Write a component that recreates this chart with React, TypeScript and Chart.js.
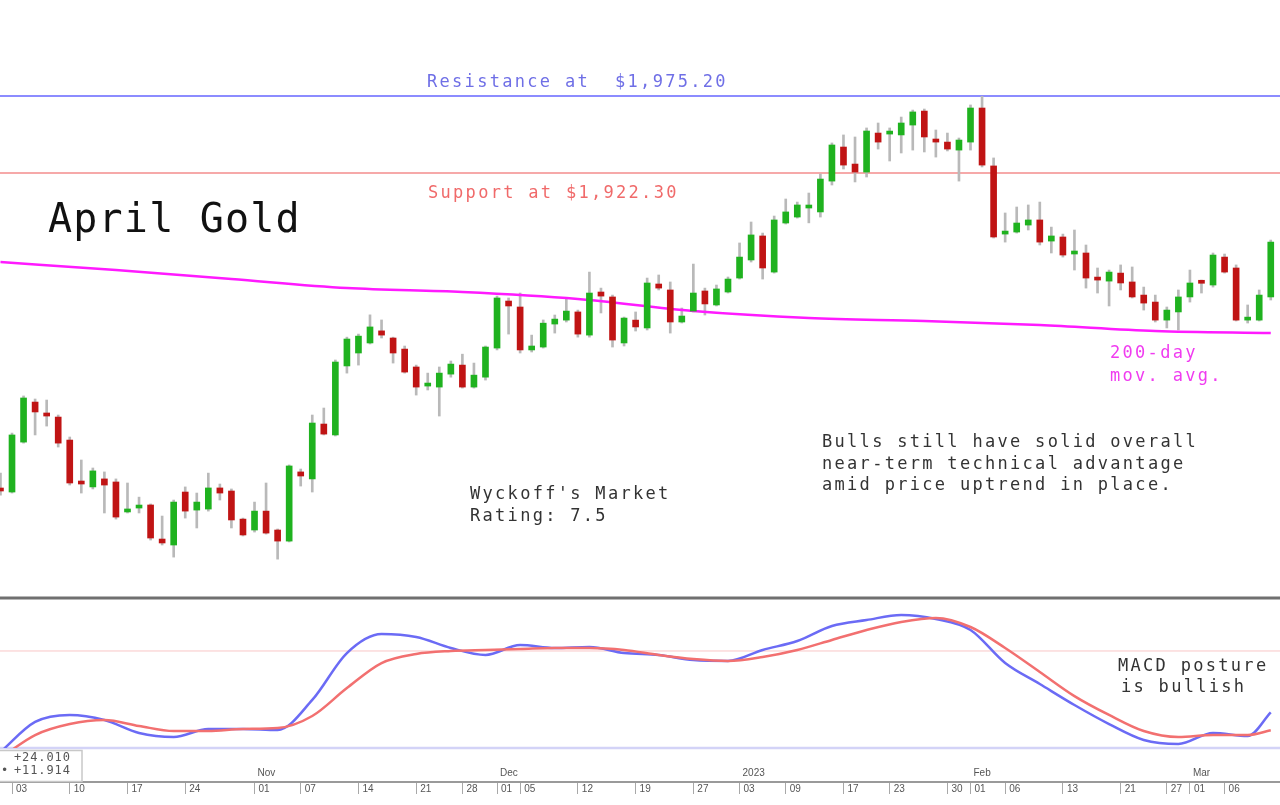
import { useEffect, useRef } from "react";
import { Chart, registerables } from "chart.js";

Chart.register(...registerables);

// Trading-day index of the first candle (Sep 30, 2022 = -1, Oct 3 = 0)
const firstIndex = -1;

const opens = [
  1705.3, 1703.2, 1737.5, 1765.0, 1757.5, 1754.7, 1738.9, 1710.1, 1706.7, 1712.2,
  1710.1, 1689.5, 1692.2, 1694.3, 1670.9, 1666.8, 1703.2, 1690.8, 1691.5, 1706.0,
  1703.9, 1684.6, 1677.1, 1690.1, 1677.1, 1669.5, 1717.0, 1712.2, 1749.9, 1742.4,
  1789.8, 1798.7, 1805.6, 1813.9, 1809.0, 1801.4, 1789.1, 1776.0, 1775.3, 1784.2,
  1790.4, 1775.3, 1782.1, 1802.1, 1834.4, 1830.3, 1800.8, 1802.8, 1818.6, 1821.3,
  1826.9, 1811.0, 1840.6, 1837.2, 1805.6, 1821.3, 1815.9, 1846.1, 1842.0, 1820.0,
  1827.5, 1841.3, 1831.7, 1840.6, 1850.2, 1862.6, 1879.1, 1854.3, 1888.0, 1892.1,
  1898.3, 1895.6, 1916.8, 1940.2, 1928.5, 1923.0, 1949.8, 1949.1, 1948.5, 1955.3,
  1964.9, 1945.7, 1943.6, 1938.1, 1943.6, 1967.0, 1927.2, 1880.4, 1881.8, 1886.6,
  1890.1, 1875.6, 1878.4, 1866.7, 1867.4, 1849.5, 1848.1, 1853.6, 1847.5, 1838.5,
  1833.7, 1821.3, 1826.9, 1837.2, 1846.8, 1845.4, 1864.6, 1857.1, 1821.3, 1821.3,
  1837.2,
];
const highs = [
  1716.2, 1743.7, 1769.2, 1767.1, 1766.4, 1756.1, 1741.0, 1725.2, 1719.7, 1717.0,
  1712.2, 1709.4, 1699.7, 1695.0, 1686.7, 1697.7, 1706.7, 1702.5, 1716.2, 1708.7,
  1705.3, 1685.3, 1696.3, 1709.4, 1677.8, 1721.8, 1719.0, 1756.1, 1760.9, 1793.9,
  1809.6, 1811.7, 1824.9, 1821.4, 1809.6, 1803.5, 1790.4, 1784.9, 1789.1, 1793.2,
  1797.9, 1791.8, 1803.5, 1837.8, 1836.5, 1839.9, 1811.0, 1821.4, 1824.8, 1835.8,
  1828.2, 1854.3, 1843.3, 1838.5, 1823.4, 1826.9, 1850.2, 1852.3, 1847.5, 1829.6,
  1859.8, 1843.3, 1845.4, 1850.9, 1874.3, 1888.7, 1881.1, 1892.8, 1904.5, 1902.4,
  1908.6, 1921.7, 1943.0, 1948.5, 1947.1, 1953.3, 1956.7, 1953.3, 1960.8, 1965.6,
  1966.3, 1951.9, 1949.8, 1946.4, 1969.1, 1975.0, 1932.7, 1894.9, 1899.0, 1900.4,
  1902.4, 1885.2, 1880.4, 1883.2, 1872.9, 1857.1, 1855.7, 1859.2, 1857.8, 1844.0,
  1838.5, 1830.3, 1842.0, 1855.7, 1848.8, 1867.4, 1866.7, 1859.2, 1831.7, 1842.0,
  1876.3,
];
const lows = [
  1701.1, 1702.5, 1736.8, 1742.4, 1748.5, 1734.1, 1708.0, 1702.5, 1705.3, 1688.8,
  1684.6, 1688.8, 1688.8, 1670.2, 1666.8, 1658.5, 1685.3, 1678.5, 1690.1, 1697.7,
  1678.5, 1673.0, 1675.7, 1674.3, 1657.1, 1668.9, 1707.3, 1703.2, 1742.4, 1741.7,
  1784.9, 1790.4, 1804.9, 1809.0, 1791.8, 1784.9, 1769.8, 1773.3, 1755.4, 1782.1,
  1774.6, 1774.6, 1780.1, 1800.8, 1811.7, 1798.7, 1799.4, 1802.1, 1812.4, 1820.0,
  1809.6, 1809.6, 1826.2, 1802.8, 1803.5, 1813.8, 1814.5, 1842.0, 1812.4, 1819.3,
  1826.9, 1824.8, 1831.0, 1839.9, 1849.5, 1861.2, 1849.5, 1853.6, 1887.3, 1891.4,
  1888.1, 1892.1, 1914.1, 1925.1, 1916.2, 1919.6, 1938.8, 1930.6, 1936.1, 1938.1,
  1936.8, 1933.3, 1937.5, 1916.8, 1938.1, 1926.5, 1877.7, 1874.9, 1881.1, 1883.2,
  1872.9, 1867.4, 1864.6, 1855.7, 1843.3, 1839.9, 1831.0, 1842.0, 1836.5, 1828.2,
  1820.0, 1815.9, 1814.5, 1833.7, 1839.9, 1844.0, 1853.6, 1820.7, 1819.3, 1820.7,
  1835.1,
];
const closes = [
  1703.9, 1742.4, 1767.8, 1758.2, 1755.4, 1736.8, 1709.4, 1708.7, 1717.7, 1708.0,
  1686.0, 1690.1, 1693.6, 1671.6, 1668.2, 1696.3, 1690.1, 1696.3, 1706.0, 1702.5,
  1684.0, 1673.7, 1690.1, 1675.0, 1669.5, 1721.1, 1714.2, 1750.6, 1743.0, 1792.5,
  1808.3, 1810.3, 1816.6, 1811.0, 1798.7, 1785.6, 1775.3, 1776.7, 1784.9, 1791.1,
  1775.3, 1783.5, 1802.8, 1836.5, 1831.0, 1800.8, 1803.5, 1819.2, 1822.0, 1827.5,
  1811.7, 1839.9, 1837.8, 1807.6, 1822.7, 1816.6, 1846.8, 1843.3, 1820.0, 1824.1,
  1839.9, 1832.4, 1842.7, 1849.5, 1864.6, 1879.8, 1857.1, 1890.1, 1895.6, 1900.4,
  1899.0, 1918.2, 1941.6, 1927.8, 1923.0, 1951.2, 1943.6, 1949.8, 1956.7, 1964.3,
  1947.1, 1943.6, 1938.8, 1945.0, 1967.0, 1927.8, 1878.4, 1881.8, 1888.0, 1890.1,
  1874.9, 1879.1, 1866.0, 1867.4, 1850.2, 1848.8, 1854.3, 1846.8, 1837.2, 1833.0,
  1821.3, 1828.2, 1837.2, 1846.8, 1846.6, 1866.0, 1854.3, 1821.3, 1822.0, 1838.5,
  1874.9,
];

// 200-day moving average, read at every 10th trading day
const maIdx = [-1, 9, 19, 29, 39, 49, 59, 69, 79, 89, 99, 109];
const maVals = [1861.2, 1855.7, 1849.5, 1843.3, 1840.6, 1835.8, 1827.5, 1822.7, 1820.7, 1817.9, 1813.8, 1812.4];

const resistance = 1975.2;
const support = 1922.3;

// MACD (blue) and signal (red), read every 3rd trading day
const macdIdx = [-1, 2, 5, 8, 11, 14, 17, 20, 23, 26, 29, 32, 35, 38, 41, 44, 47, 50, 53, 56, 59, 62, 65, 68, 71, 74, 77, 80, 83, 86, 89, 92, 95, 98, 101, 104, 107, 109];
const macdVals = [-2.7, 17.5, 22.2, 18.8, 10.1, 7.4, 12.8, 12.8, 12.1, 32.3, 63.8, 76.6, 74.6, 67.2, 62.5, 69.2, 67.2, 67.9, 63.8, 62.5, 59.1, 58.5, 65.9, 71.9, 82.0, 86.0, 89.4, 86.7, 79.3, 57.1, 43.0, 28.9, 16.1, 5.4, 2.7, 10.1, 8.1, 24.0];
const signalVals = [-6.7, 8.7, 16.1, 18.8, 14.8, 11.4, 11.4, 12.8, 13.4, 21.5, 40.3, 57.1, 63.2, 65.2, 65.9, 66.5, 67.2, 67.2, 65.9, 62.5, 59.8, 58.5, 61.2, 65.9, 72.6, 79.3, 84.7, 87.4, 81.3, 67.2, 51.1, 34.9, 22.2, 11.4, 7.4, 8.7, 8.7, 11.9];
const macdRefLevel = 65.2;
const macdLegend = ["+24.010", "+11.914"];

// Date axis
const dayTickIdx = [0, 5, 10, 15, 21, 25, 30, 35, 39, 42, 44, 49, 54, 59, 63, 67, 72, 76, 81, 83, 86, 91, 96, 100, 102, 105];
const dayTickLabels = ["03", "10", "17", "24", "01", "07", "14", "21", "28", "01", "05", "12", "19", "27", "03", "09", "17", "23", "30", "01", "06", "13", "21", "27", "01", "06"];
const monthTickIdx = [21, 42, 63, 83, 102];
const monthTickLabels = ["Nov", "Dec", "2023", "Feb", "Mar"];

const X_MIN = -1.04;
const X_MAX = 109.8;
const PRICE_MIN = 1630.4;
const PRICE_MAX = 2041.2;
const MACD_MIN = 0;
const MACD_MAX = 100.8;

const GREEN = "#1fb21f";
const RED = "#c01414";
const WICK = "#b9b9b9";

const MONO = "'DejaVu Sans Mono', monospace";

function txt(ctx: CanvasRenderingContext2D, s: string, x: number, y: number, size: number, color: string, spacing: number) {
  ctx.save();
  ctx.font = `${size}px ${MONO}`;
  ctx.fillStyle = color;
  (ctx as any).letterSpacing = `${spacing}px`;
  ctx.textBaseline = "middle";
  ctx.textAlign = "left";
  ctx.fillText(s, x, y);
  ctx.restore();
}

const annotations = {
  id: "annotations",
  afterDraw(chart: any) {
    const ctx: CanvasRenderingContext2D = chart.ctx;
    const y = chart.scales.y;
    const rY = y.getPixelForValue(resistance);
    const sY = y.getPixelForValue(support);
    txt(ctx, "Resistance at  $1,975.20", 427, rY - 13, 17, "#6f6fe6", 2.3);
    txt(ctx, "Support at $1,922.30", 428, sY + 20, 17, "#f06a6a", 2.3);
    txt(ctx, "April Gold", 48, 222, 40, "#111", 1.2);
    txt(ctx, "200-day", 1110, 354, 17, "#f03cf0", 2.3);
    txt(ctx, "mov. avg.", 1110, 377, 17, "#f03cf0", 2.3);
    txt(ctx, "Bulls still have solid overall", 822, 443, 17, "#333", 2.3);
    txt(ctx, "near-term technical advantage", 822, 465, 17, "#333", 2.3);
    txt(ctx, "amid price uptrend in place.", 822, 486, 17, "#333", 2.3);
    txt(ctx, "Wyckoff's Market", 470, 495, 17, "#333", 2.3);
    txt(ctx, "Rating: 7.5", 470, 517, 17, "#333", 2.3);
    txt(ctx, "MACD posture", 1118, 667, 17, "#333", 2.3);
    txt(ctx, "is bullish", 1121, 688, 17, "#333", 2.3);

    // MACD value box
    ctx.save();
    ctx.fillStyle = "#fff";
    ctx.strokeStyle = "#c8c8c8";
    ctx.lineWidth = 1.5;
    ctx.fillRect(-2, 750, 84, 31);
    ctx.strokeRect(-2, 750.5, 84, 31);
    ctx.restore();
    txt(ctx, macdLegend[0], 14, 758, 12, "#555", 0.9);
    txt(ctx, "\u2022", 1, 771, 12, "#555", 0);
    txt(ctx, macdLegend[1], 14, 771, 12, "#555", 0.9);
  },
};

export default function App() {
  const ref = useRef<HTMLCanvasElement>(null);

  useEffect(() => {
    const idx = opens.map((_, k) => k + firstIndex);
    const bodies = idx.map((x, k) => ({ x, y: [opens[k], closes[k]] }));
    const wicks = idx.map((x, k) => ({ x, y: [lows[k], highs[k]] }));
    const bodyColors = opens.map((o, k) => (closes[k] >= o ? GREEN : RED));
    const ma = maIdx.map((x, k) => ({ x, y: maVals[k] }));
    const macd = macdIdx.map((x, k) => ({ x, y: macdVals[k] }));
    const signal = macdIdx.map((x, k) => ({ x, y: signalVals[k] }));
    const hline = (v: number) => [
      { x: X_MIN, y: v },
      { x: X_MAX, y: v },
    ];

    const common = { pointRadius: 0, fill: false, tension: 0 };
    const smooth = { pointRadius: 0, fill: false, cubicInterpolationMode: "monotone" };
    const hidden = { ticks: { display: false }, grid: { display: false, drawTicks: false }, border: { display: false } };

    const chart = new Chart(ref.current as HTMLCanvasElement, {
      type: "bar",
      data: {
        datasets: [
          { type: "line", data: hline(resistance), borderColor: "#8c8cff", borderWidth: 2, order: 5, yAxisID: "y", xAxisID: "x", ...common } as any,
          { type: "line", data: hline(support), borderColor: "#f6a9a9", borderWidth: 2, order: 5, yAxisID: "y", xAxisID: "x", ...common } as any,
          { type: "bar", data: wicks, backgroundColor: WICK, barThickness: 2, grouped: false, order: 4, yAxisID: "y", xAxisID: "x" } as any,
          { type: "line", data: ma, borderColor: "#ff1aff", borderWidth: 2.5, order: 3, yAxisID: "y", xAxisID: "x", ...smooth } as any,
          { type: "bar", data: bodies, backgroundColor: bodyColors, barThickness: 6, minBarLength: 3, grouped: false, order: 2, yAxisID: "y", xAxisID: "x" } as any,
          { type: "line", data: hline(macdRefLevel), borderColor: "#f9c6c6", borderWidth: 1, order: 6, yAxisID: "y2", xAxisID: "x", ...common } as any,
          { type: "line", data: hline(MACD_MIN), borderColor: "#d3d3f7", borderWidth: 2.5, order: 6, yAxisID: "y2", xAxisID: "x", clip: false, ...common } as any,
          { type: "line", data: hline(MACD_MAX), borderColor: "#707070", borderWidth: 3, order: 0, yAxisID: "y2", xAxisID: "x", clip: false, ...common } as any,
          { type: "line", data: signal, borderColor: "#f27070", borderWidth: 2.5, order: 1, yAxisID: "y2", xAxisID: "x", ...smooth } as any,
          { type: "line", data: macd, borderColor: "#6b6bf5", borderWidth: 2.5, order: 1, yAxisID: "y2", xAxisID: "x", ...smooth } as any,
        ],
      },
      options: {
        animation: false,
        responsive: true,
        maintainAspectRatio: false,
        events: [],
        layout: { padding: 0 },
        plugins: { legend: { display: false }, tooltip: { enabled: false } },
        scales: {
          x: {
            type: "linear",
            position: "bottom",
            min: X_MIN,
            max: X_MAX,
            offset: false,
            bounds: "data",
            weight: 1,
            afterBuildTicks: (s: any) => {
              s.ticks = dayTickIdx.map((v) => ({ value: v }));
            },
            afterFit: (s: any) => {
              s.height = 23;
            },
            ticks: {
              autoSkip: false,
              maxRotation: 0,
              minRotation: 0,
              align: "start",
              labelOffset: 4,
              padding: -11,
              color: "#555",
              font: { family: "'Liberation Sans', sans-serif", size: 10 },
              callback: (_v: any, i: number) => dayTickLabels[i],
            },
            grid: { display: true, drawOnChartArea: false, drawTicks: true, tickLength: 12, color: "#a8a8a8", lineWidth: 1, offset: false },
            border: { display: true, color: "#9a9a9a", width: 2 },
          } as any,
          x2: {
            type: "linear",
            position: "bottom",
            min: X_MIN,
            max: X_MAX,
            offset: false,
            bounds: "data",
            weight: 0,
            afterBuildTicks: (s: any) => {
              s.ticks = monthTickIdx.map((v) => ({ value: v }));
            },
            afterFit: (s: any) => {
              s.height = 34;
            },
            ticks: {
              autoSkip: false,
              maxRotation: 0,
              minRotation: 0,
              align: "start",
              labelOffset: 3,
              padding: 19,
              color: "#555",
              font: { family: "'Liberation Sans', sans-serif", size: 10 },
              callback: (_v: any, i: number) => monthTickLabels[i],
            },
            grid: { display: false, drawTicks: false, offset: false },
            border: { display: false },
          } as any,
          y: {
            type: "linear",
            position: "left",
            stack: "panels",
            stackWeight: 598,
            weight: 2,
            min: PRICE_MIN,
            max: PRICE_MAX,
            ...hidden,
          } as any,
          y2: {
            type: "linear",
            position: "left",
            stack: "panels",
            stackWeight: 150,
            weight: 1,
            min: MACD_MIN,
            max: MACD_MAX,
            ...hidden,
          } as any,
        },
      },
      plugins: [annotations],
    });
    return () => chart.destroy();
  }, []);

  return (
    <div style={{ position: "fixed", left: 0, top: 0, width: 1280, height: 805, background: "#fff" }}>
      <canvas ref={ref} />
    </div>
  );
}
